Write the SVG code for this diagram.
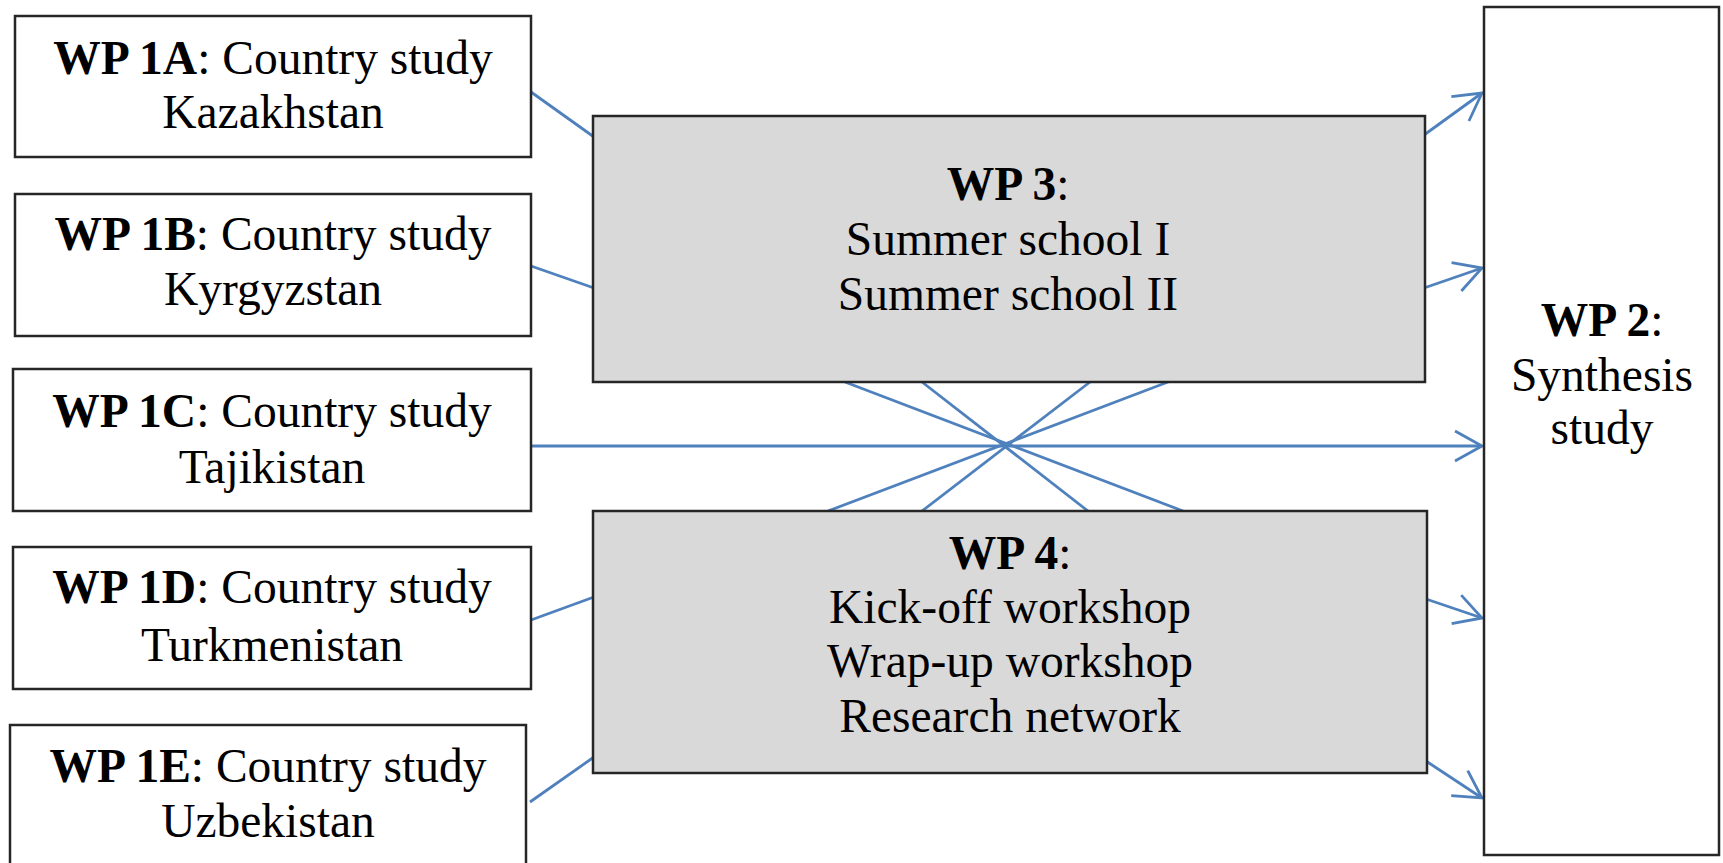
<svg xmlns="http://www.w3.org/2000/svg" width="1723" height="863" viewBox="0 0 1723 863">
<style>
.box{fill:#ffffff;stroke:#262626;stroke-width:2.5}
.grey{fill:#d9d9d9;stroke:#262626;stroke-width:2.5}
.t{font-family:"Liberation Serif","Times New Roman",serif;font-size:47.5px;fill:#000;text-anchor:middle}
.b{font-weight:bold}
.c{stroke:#4f81bd;stroke-width:2.8;fill:none}
.ca{stroke:#4f81bd;stroke-width:2.8;fill:none;marker-end:url(#arr)}
</style>
<defs>
<marker id="arr" viewBox="0 0 32 34" refX="30" refY="17" markerWidth="32" markerHeight="34" markerUnits="userSpaceOnUse" orient="auto">
<path d="M3,2 L30,17 L3,32" fill="none" stroke="#4f81bd" stroke-width="2.8"/>
</marker>
</defs>
<rect width="1723" height="863" fill="#ffffff"/>
<g id="connectors">
<line class="c" x1="531" y1="92" x2="594" y2="137"/>
<line class="c" x1="531" y1="266" x2="594" y2="288"/>
<line class="ca" x1="531" y1="446" x2="1482" y2="446"/>
<line class="c" x1="531" y1="620" x2="594" y2="597"/>
<line class="c" x1="530" y1="802" x2="594" y2="757"/>
<line class="ca" x1="1424" y1="135" x2="1482" y2="93"/>
<line class="ca" x1="1424" y1="288" x2="1482" y2="268"/>
<line class="ca" x1="1426" y1="599" x2="1482" y2="618"/>
<line class="ca" x1="1426" y1="761" x2="1482" y2="798"/>
<line class="c" x1="845" y1="382" x2="1183" y2="511"/>
<line class="c" x1="922" y1="382" x2="1088" y2="511"/>
<line class="c" x1="1090" y1="382" x2="922" y2="511"/>
<line class="c" x1="1168" y1="382" x2="828" y2="511"/>
</g>
<g id="wp1a">
<rect class="box" x="15" y="16" width="516" height="141"/>
<text class="t" x="273" y="74"><tspan class="b">WP 1A</tspan>: Country study</text>
<text class="t" x="273" y="128">Kazakhstan</text>
</g>
<g id="wp1b">
<rect class="box" x="15" y="194" width="516" height="142"/>
<text class="t" x="273" y="250"><tspan class="b">WP 1B</tspan>: Country study</text>
<text class="t" x="273" y="305">Kyrgyzstan</text>
</g>
<g id="wp1c">
<rect class="box" x="13" y="369" width="518" height="142"/>
<text class="t" x="272" y="427"><tspan class="b">WP 1C</tspan>: Country study</text>
<text class="t" x="272" y="483">Tajikistan</text>
</g>
<g id="wp1d">
<rect class="box" x="13" y="547" width="518" height="142"/>
<text class="t" x="272" y="603"><tspan class="b">WP 1D</tspan>: Country study</text>
<text class="t" x="272" y="661">Turkmenistan</text>
</g>
<g id="wp1e">
<rect class="box" x="10" y="725" width="516" height="150"/>
<text class="t" x="268" y="782"><tspan class="b">WP 1E</tspan>: Country study</text>
<text class="t" x="268" y="837">Uzbekistan</text>
</g>
<g id="wp3">
<rect class="grey" x="593" y="116" width="832" height="266"/>
<text class="t" x="1008" y="200"><tspan class="b">WP 3</tspan>:</text>
<text class="t" x="1008" y="255">Summer school I</text>
<text class="t" x="1008" y="310">Summer school II</text>
</g>
<g id="wp4">
<rect class="grey" x="593" y="511" width="834" height="262"/>
<text class="t" x="1010" y="569"><tspan class="b">WP 4</tspan>:</text>
<text class="t" x="1010" y="623">Kick-off workshop</text>
<text class="t" x="1010" y="677">Wrap-up workshop</text>
<text class="t" x="1010" y="732">Research network</text>
</g>
<g id="wp2">
<rect class="box" x="1484" y="7" width="235" height="848"/>
<text class="t" x="1602" y="336"><tspan class="b">WP 2</tspan>:</text>
<text class="t" x="1602" y="391">Synthesis</text>
<text class="t" x="1602" y="444">study</text>
</g>
</svg>
